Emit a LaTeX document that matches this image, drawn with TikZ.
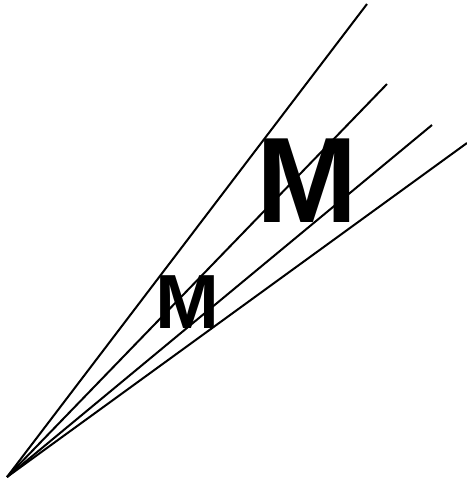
\documentclass[tikz,border=0pt]{standalone}
\usepackage{fontspec}
\newfontfamily\letterfont{Liberation Sans}
\usepackage{tikz}
\usetikzlibrary{calc}

\tikzset{
  ray/.style={black, line width=1pt},
  letter/.style={anchor=base, inner sep=0pt, text=black}
}

\begin{document}
\begin{tikzpicture}[x=0.5pt, y=-0.5pt]

  \useasboundingbox (0, 0) rectangle (467, 479);

  % Apex and ray ends
  \coordinate (apex) at (7, 477);
  \coordinate (endA) at (367, 4);
  \coordinate (endB) at (387, 84);
  \coordinate (endC) at (432, 125);
  \coordinate (endD) at (467, 143);

  % Rays
  \draw[ray] (apex) -- (endA);
  \draw[ray] (apex) -- (endB);
  \draw[ray] (apex) -- (endC);
  \draw[ray] (apex) -- (endD);

  % Letters
  \node[letter, font={\letterfont\bfseries\fontsize{38.4}{40}\selectfont}] (smallM) at (187, 328) {M};
  \node[letter, font={\letterfont\bfseries\fontsize{60.8}{62}\selectfont}] (bigM) at (307.5, 222) {M};

\end{tikzpicture}
\end{document}
